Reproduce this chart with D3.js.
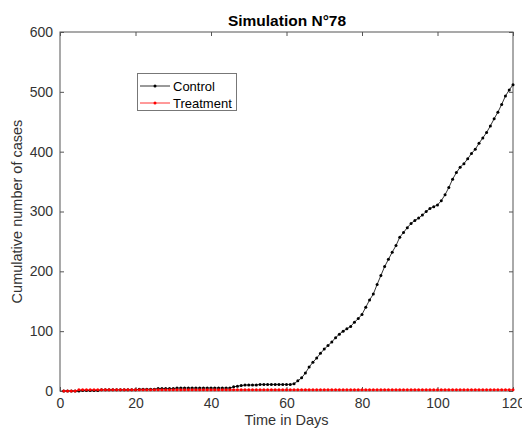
<!DOCTYPE html>
<html><head><meta charset="utf-8">
<script src="https://cdn.jsdelivr.net/npm/d3@7"></script>
<style>body{margin:0;background:#fff}svg{display:block}text{font-family:"Liberation Sans",Arial,sans-serif}</style>
</head><body><svg id="c" width="522" height="434"></svg>
<script>
const days = d3.range(1, 121);
const control = [
0,0,0,0,0,1,1,1,1,1,
2,2,2,2,2,2,2,2,2,2,
3,3,3,3,3,4,4,4,4,4,
5,5,5,5,5,5,5,5,5,5,
5,5,5,5,5,7,8,9,10,10,
10,10,11,11,11,11,11,11,11,11,
11,12,17,22,30,40,48,55,63,70,
76,82,89,95,100,104,108,115,121,128,
140,152,162,178,193,208,220,232,243,257,
265,273,280,285,289,294,300,305,308,311,
318,328,340,354,365,374,380,388,397,404,
414,423,432,443,455,466,479,493,503,512];
const treatment = days.map(d => d < 5 ? 0 : 2);
const xTicks = [0,20,40,60,80,100,120];
const yTicks = [0,100,200,300,400,500,600];
const seriesNames = ["Control","Treatment"];
const seriesColors = ["#000000","#ff0000"];

const svg = d3.select("#c");
const L=60,R=513,T=32,B=391;
const x = d3.scaleLinear().domain([0,120]).range([L,R]);
const y = d3.scaleLinear().domain([0,600]).range([B,T]);
const axisCol="#555", textCol="#333";

svg.append("rect").attr("x",L).attr("y",T).attr("width",R-L).attr("height",B-T)
  .attr("fill","#fff").attr("stroke",axisCol).attr("stroke-width",1);

function style(g){ g.select(".domain").remove(); g.selectAll("line").attr("stroke",axisCol);
  g.selectAll("text").attr("fill",textCol).style("font-size","14px"); }
svg.append("g").attr("transform",`translate(0,${B})`)
  .call(d3.axisBottom(x).tickValues(xTicks).tickSize(-4).tickPadding(7)).call(style);
svg.append("g").attr("transform",`translate(0,${T})`)
  .call(d3.axisTop(x).tickValues(xTicks).tickSize(-4).tickFormat("")).call(style);
svg.append("g").attr("transform",`translate(${L},0)`)
  .call(d3.axisLeft(y).tickValues(yTicks).tickSize(-4).tickPadding(7)).call(style);
svg.append("g").attr("transform",`translate(${R},0)`)
  .call(d3.axisRight(y).tickValues(yTicks).tickSize(-4).tickFormat("")).call(style);

const line = d3.line().x((d,i)=>x(days[i])).y(d=>y(d));
[control, treatment].forEach((vals,k)=>{
  svg.append("path").datum(vals).attr("d",line).attr("fill","none")
    .attr("stroke",seriesColors[k]).attr("stroke-width",0.8);
  svg.append("g").selectAll("circle").data(vals).join("circle")
    .attr("cx",(d,i)=>x(days[i])).attr("cy",d=>y(d)).attr("r",1.5).attr("fill",seriesColors[k]);
});

svg.append("text").attr("x",287).attr("y",26).attr("text-anchor","middle")
  .style("font-size","15.5px").style("font-weight","bold").attr("fill","#000").text("Simulation N°78");
svg.append("text").attr("x",(L+R)/2).attr("y",425).attr("text-anchor","middle")
  .style("font-size","14.5px").attr("fill",textCol).text("Time in Days");
svg.append("text").attr("transform",`translate(22,${(T+B)/2}) rotate(-90)`).attr("text-anchor","middle")
  .style("font-size","14.5px").attr("fill",textCol).text("Cumulative number of cases");

const lg = svg.append("g");
lg.append("rect").attr("x",137.5).attr("y",73.5).attr("width",99).attr("height",37)
  .attr("fill","#fff").attr("stroke","#777").attr("stroke-width",1);
seriesNames.forEach((n,k)=>{
  const yy = 86 + k*17;
  lg.append("line").attr("x1",140).attr("x2",170).attr("y1",yy).attr("y2",yy)
    .attr("stroke",seriesColors[k]).attr("stroke-width",0.8);
  lg.append("circle").attr("cx",155).attr("cy",yy).attr("r",1.5).attr("fill",seriesColors[k]);
  lg.append("text").attr("x",173).attr("y",yy+4.5).style("font-size","13px").attr("fill","#000").text(n);
});
</script></body></html>
